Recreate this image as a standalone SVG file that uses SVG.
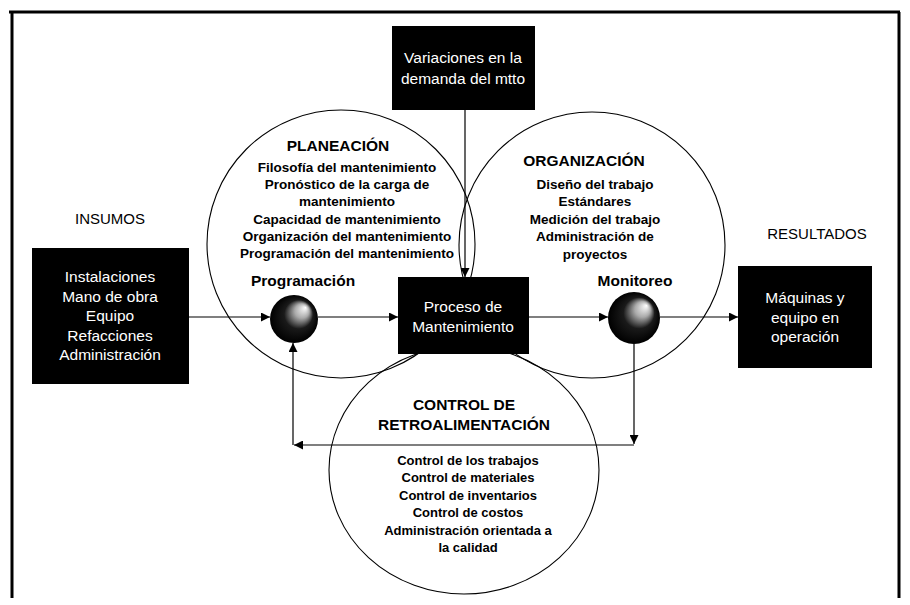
<svg xmlns="http://www.w3.org/2000/svg" width="910" height="605" viewBox="0 0 910 605">
<style>
.frame{stroke:#000;stroke-width:3;fill:none}
.ring{fill:none;stroke:#000;stroke-width:1.1}
.box{fill:#000}
.wt{fill:#fff;font-family:"Liberation Sans",Arial,sans-serif;font-size:15.5px;text-anchor:middle}
.tt{fill:#000;font-family:"Liberation Sans",Arial,sans-serif;font-size:15.5px;font-weight:bold;text-anchor:middle}
.it{fill:#000;font-family:"Liberation Sans",Arial,sans-serif;font-size:13.5px;font-weight:bold;text-anchor:middle}
.ct{fill:#000;font-family:"Liberation Sans",Arial,sans-serif;font-size:13px;font-weight:bold;text-anchor:middle}
.lb{fill:#000;font-family:"Liberation Sans",Arial,sans-serif;font-size:15px;text-anchor:middle}
.con{stroke:#000;stroke-width:1.2;fill:none}
</style>
<defs>
<marker id="ah" viewBox="0 0 10 10" refX="10" refY="5" markerWidth="10" markerHeight="9" markerUnits="userSpaceOnUse" orient="auto">
<path d="M0,0 L10,5 L0,10 z" fill="#000"/>
</marker>
<radialGradient id="sph" cx="0.5" cy="0.5" r="0.5" fx="0.74" fy="0.26">
<stop offset="0" stop-color="#fff"/>
<stop offset="0.3" stop-color="#aaa"/>
<stop offset="0.6" stop-color="#1a1a1a"/>
<stop offset="1" stop-color="#000"/>
</radialGradient>
</defs>
<rect width="910" height="605" fill="#fff"/>
<g id="frame">
<line class="frame" x1="9" y1="12" x2="900" y2="12"/>
<line class="frame" x1="12" y1="12" x2="12" y2="598"/>
<line class="frame" x1="899" y1="12" x2="899" y2="598" stroke-width="2.5"/>
</g>
<g id="planeacion">
<circle class="ring" cx="341" cy="244" r="134"/>
<text class="tt" x="338" y="151">PLANEACIÓN</text>
<text class="it" x="347" y="172">Filosofía del mantenimiento</text>
<text class="it" x="347" y="189">Pronóstico de la carga de</text>
<text class="it" x="347" y="206">mantenimiento</text>
<text class="it" x="347" y="224">Capacidad de mantenimiento</text>
<text class="it" x="347" y="241">Organización del mantenimiento</text>
<text class="it" x="347" y="258">Programación del mantenimiento</text>
</g>
<g id="organizacion">
<circle class="ring" cx="592" cy="245" r="133"/>
<text class="tt" x="584" y="166">ORGANIZACIÓN</text>
<text class="it" x="595" y="189">Diseño del trabajo</text>
<text class="it" x="595" y="206">Estándares</text>
<text class="it" x="595" y="224">Medición del trabajo</text>
<text class="it" x="595" y="241">Administración de</text>
<text class="it" x="595" y="259">proyectos</text>
</g>
<g id="control">
<ellipse class="ring" cx="464" cy="470" rx="135" ry="124"/>
<text class="tt" x="464" y="410" font-size="15px">CONTROL DE</text>
<text class="tt" x="464" y="430" font-size="15px">RETROALIMENTACIÓN</text>
<text class="ct" x="468" y="465">Control de los trabajos</text>
<text class="ct" x="468" y="482">Control de materiales</text>
<text class="ct" x="468" y="500">Control de inventarios</text>
<text class="ct" x="468" y="517">Control de costos</text>
<text class="ct" x="468" y="535">Administración orientada a</text>
<text class="ct" x="468" y="552">la calidad</text>
</g>
<g id="connectors">
<line class="con" x1="189" y1="317" x2="270" y2="317" marker-end="url(#ah)"/>
<line class="con" x1="318" y1="317" x2="398" y2="317" marker-end="url(#ah)"/>
<line class="con" x1="529" y1="317" x2="608" y2="317" marker-end="url(#ah)"/>
<line class="con" x1="660" y1="317" x2="738" y2="317" stroke-width="2" marker-end="url(#ah)"/>
<line class="con" x1="465" y1="110" x2="465" y2="277" marker-end="url(#ah)"/>
<line class="con" x1="634" y1="344" x2="634" y2="444" marker-end="url(#ah)"/>
<line class="con" x1="634" y1="445" x2="294" y2="445" marker-end="url(#ah)"/>
<line class="con" x1="293" y1="445" x2="293" y2="343" marker-end="url(#ah)"/>
</g>
<g id="variaciones">
<rect class="box" x="392" y="26" width="143" height="84"/>
<text class="wt" x="463" y="63">Variaciones en la</text>
<text class="wt" x="463" y="84">demanda del mtto</text>
</g>
<g id="proceso">
<rect class="box" x="398" y="277" width="131" height="77"/>
<text class="wt" x="463" y="312">Proceso de</text>
<text class="wt" x="463" y="332">Mantenimiento</text>
</g>
<g id="insumos">
<text class="lb" x="110" y="224">INSUMOS</text>
<rect class="box" x="32" y="248" width="157" height="136"/>
<text class="wt" x="110" y="282">Instalaciones</text>
<text class="wt" x="110" y="302">Mano de obra</text>
<text class="wt" x="110" y="321">Equipo</text>
<text class="wt" x="110" y="341">Refacciones</text>
<text class="wt" x="110" y="360">Administración</text>
</g>
<g id="resultados">
<text class="lb" x="817" y="239">RESULTADOS</text>
<rect class="box" x="738" y="266" width="134" height="102"/>
<text class="wt" x="805" y="303">Máquinas y</text>
<text class="wt" x="805" y="323">equipo en</text>
<text class="wt" x="805" y="342">operación</text>
</g>
<g id="programacion">
<text class="tt" x="303" y="286" font-size="14.5px">Programación</text>
<circle cx="294" cy="319" r="24" fill="url(#sph)"/>
</g>
<g id="monitoreo">
<text class="tt" x="635" y="286" font-size="15px">Monitoreo</text>
<circle cx="634" cy="318" r="26" fill="url(#sph)"/>
</g>
</svg>
